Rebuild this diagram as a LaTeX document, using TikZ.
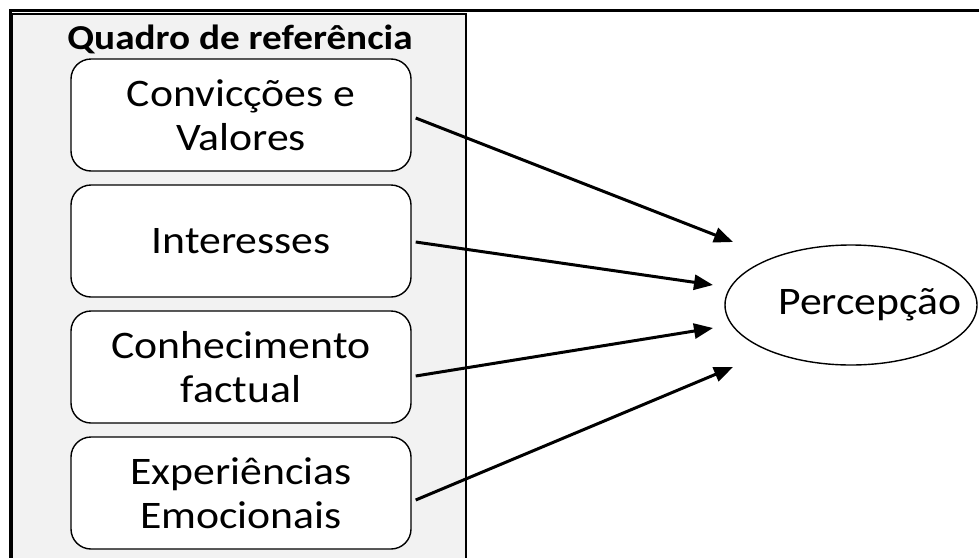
\documentclass[tikz,border=0pt]{standalone}
\usepackage{fontspec}
\setmainfont{Carlito}[FakeStretch=1.12]
\usetikzlibrary{arrows.meta,positioning,shapes.geometric}

\begin{document}
\begin{tikzpicture}[x=1pt,y=-1pt,node distance=126pt,on grid,
  item/.style={draw,line width=1.4pt,rounded corners=20pt,fill=white,
    minimum width=340pt,minimum height=112pt,align=center,
    font=\fontsize{39}{44}\selectfont},
  link/.style={line width=3pt,-{Triangle[length=19pt,width=15pt]}}]
  \useasboundingbox (0,0) rectangle (979,557);
  \fill[white] (0,0) rectangle (979,557);
  % panel of the frame of reference
  \draw[line width=1.2pt,fill=black!5] (12,14) rectangle (466,580);
  \draw[line width=3pt] (10,580) -- (10,10) -- (990,10);
  \node (title) [anchor=base,font=\bfseries\fontsize{35}{38}\selectfont] at (240,49) {Quadro de referência};
  \node[item] (conv) at (241,115) {Convicções e\\Valores};
  \node[item] (inter) [below=of conv] {Interesses};
  \node[item] (conh) [below=of inter] {Conhecimento\\factual};
  \node[item] (exp) [below=of conh] {Experiências\\Emocionais};
  \node[draw,ellipse,line width=1.4pt,minimum width=252pt,minimum height=120pt,
    label={[xshift=19pt,font=\fontsize{39}{44}\selectfont]center:Percepção}] (perc) at (851,305) {};
  % arrow ends in front of the ellipse
  \coordinate (t1) at ([shift={(-118,-63)}]perc.center);
  \coordinate (t2) at ([shift={(-138,-20)}]perc.center);
  \coordinate (t3) at ([shift={(-138,23)}]perc.center);
  \coordinate (t4) at ([shift={(-118,62)}]perc.center);
  \draw[link] ([shift={(4,3)}]conv.east) -- (t1);
  \draw[link] ([shift={(4,1)}]inter.east) -- (t2);
  \draw[link] ([shift={(4,9)}]conh.east) -- (t3);
  \draw[link] ([shift={(4,7)}]exp.east) -- (t4);
\end{tikzpicture}
\end{document}
